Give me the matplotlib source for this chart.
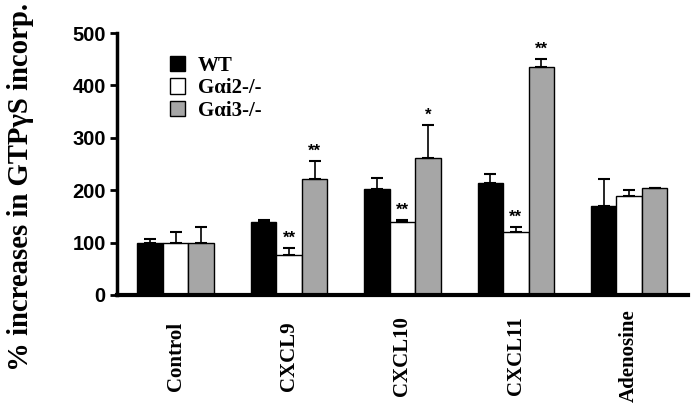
import numpy as np
import matplotlib
matplotlib.use('Agg')
import matplotlib.pyplot as plt

# data
categories = ['Control', 'CXCL9', 'CXCL10', 'CXCL11', 'Adenosine']
series = ['WT', 'G\u03b1i2-/-', 'G\u03b1i3-/-']
wt = [100, 139, 203, 214, 170]
wt_err = [7, 4, 20, 17, 51]
gai2 = [100, 76, 139, 120, 189]
gai2_err = [20, 14, 4, 10, 11]
gai3 = [100, 221, 262, 436, 205]
gai3_err = [30, 35, 62, 15, 0]
gai2_sig = ['', '**', '**', '**', '']
gai3_sig = ['', '**', '*', '**', '']

serif = ['Liberation Serif', 'DejaVu Serif']
sans = ['Liberation Sans', 'DejaVu Sans']

fig = plt.figure(figsize=(6.95, 4.19), dpi=100)
ax = fig.add_axes([0.168, 0.296, 0.822, 0.625])

x = np.arange(len(categories))
w = 0.225
cols = ['black', 'white', '#a6a6a6']
vals = [wt, gai2, gai3]
errs = [wt_err, gai2_err, gai3_err]

for i in range(3):
    xi = x + (i - 1) * w
    ax.bar(xi, vals[i], w, color=cols[i], edgecolor='black', linewidth=1.0,
           label=series[i], zorder=2)
    ax.errorbar(xi, vals[i], yerr=[np.zeros(len(x)), errs[i]], fmt='none',
                ecolor='black', elinewidth=1.2, capsize=4.5, capthick=1.5,
                zorder=3)

for sig, off, v, e in [(gai2_sig, 0, gai2, gai2_err), (gai3_sig, 1, gai3, gai3_err)]:
    for j in range(len(x)):
        if sig[j]:
            ax.text(x[j] + off * w, v[j] + e[j] + 4, sig[j], ha='center',
                    va='bottom', fontsize=12, fontweight='bold', family=sans)

ax.set_xlim(-0.52, len(x) - 0.48)
ax.set_ylim(0, 500)
ax.set_yticks([0, 100, 200, 300, 400, 500])
ax.tick_params(axis='y', direction='out', length=5, width=2, labelsize=14.5, pad=3)
for lab in ax.get_yticklabels():
    lab.set_fontweight('bold')
    lab.set_family(sans)

ax.set_xticks(x)
ax.set_xticklabels(categories, rotation=90, va='center', family=serif,
                   fontweight='bold', fontsize=15)
ax.tick_params(axis='x', length=0, pad=44)

for s in ['top', 'right']:
    ax.spines[s].set_visible(False)
ax.spines['left'].set_linewidth(2.5)
ax.spines['bottom'].set_linewidth(3)

fig.text(0.03, 0.553, '% increases in GTP\u03b3S incorp.', rotation=90,
         ha='center', va='center', family=serif, fontweight='bold', fontsize=20.7)

leg = ax.legend(loc='upper left', bbox_to_anchor=(0.06, 0.985), frameon=False,
                prop={'family': serif, 'weight': 'bold', 'size': 15},
                handlelength=0.75, handleheight=0.75, handletextpad=0.6,
                labelspacing=0.12)

plt.savefig('out.png', dpi=100)
